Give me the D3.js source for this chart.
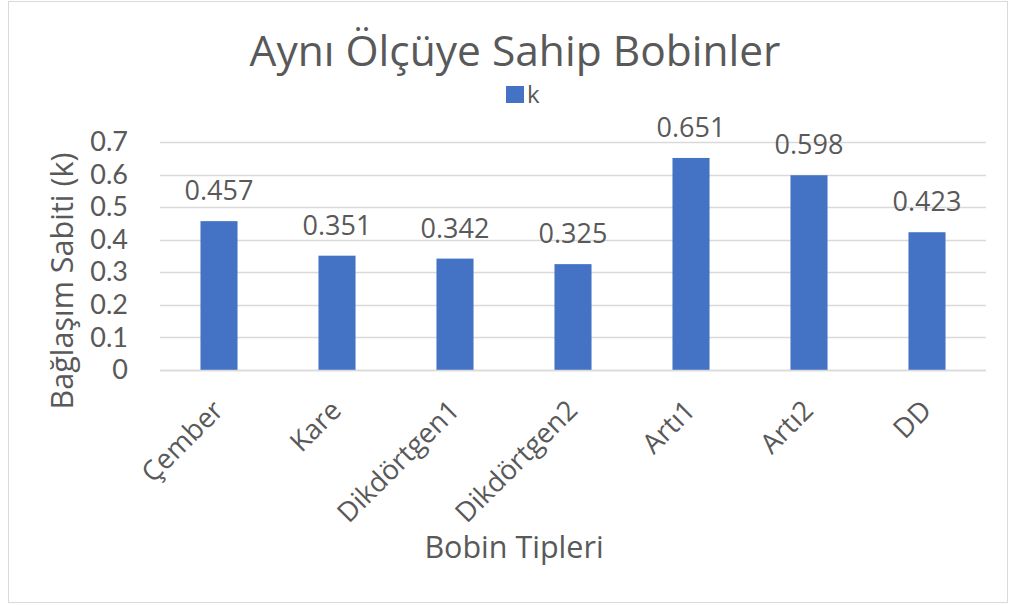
<!DOCTYPE html>
<html>
<head>
<meta charset="utf-8">
<script src="https://cdn.jsdelivr.net/npm/d3@7"></script>
<style>
  html, body { margin: 0; padding: 0; background: #fff; }
  svg text { fill: #595959; }
</style>
</head>
<body>
<svg id="chart" width="1011" height="605"></svg>
<script>
const categories = ["Çember", "Kare", "Dikdörtgen1", "Dikdörtgen2", "Artı1", "Artı2", "DD"];
const kValues = [0.457, 0.351, 0.342, 0.325, 0.651, 0.598, 0.423];
const yTicks = [0, 0.1, 0.2, 0.3, 0.4, 0.5, 0.6, 0.7];
const seriesName = "k";
const chartTitle = "Aynı Ölçüye Sahip Bobinler";
const xTitle = "Bobin Tipleri";
const yTitle = "Bağlaşım Sabiti (k)";

const plot = { left: 160, right: 986, top: 142, bottom: 370 };
const barColor = "#4472C4";
const gridColor = "#d9d9d9";
const font = "'Open Sans', Lato, sans-serif";
const tickFont = "Lato, 'Open Sans', sans-serif";

const svg = d3.select("#chart").style("font-family", font);

// chart frame
svg.append("rect")
  .attr("x", 8.5).attr("y", 1.5)
  .attr("width", 999).attr("height", 601)
  .attr("fill", "#fff").attr("stroke", gridColor).attr("stroke-width", 1);

const x = d3.scaleBand()
  .domain(categories)
  .range([plot.left, plot.right])
  .paddingInner(0.686)
  .paddingOuter(0.343);

const y = d3.scaleLinear()
  .domain([0, 0.7])
  .range([plot.bottom, plot.top]);

// horizontal gridlines
svg.append("g")
  .selectAll("line")
  .data(yTicks)
  .join("line")
  .attr("x1", plot.left).attr("x2", plot.right)
  .attr("y1", d => Math.round(y(d)) + 0.5).attr("y2", d => Math.round(y(d)) + 0.5)
  .attr("stroke", gridColor).attr("stroke-width", 1.5);

// y axis labels
const yAxis = d3.axisLeft(y).tickValues(yTicks)
  .tickFormat(d => d === 0 ? "0" : d3.format(".1f")(d))
  .tickSize(0).tickPadding(0);
const gy = svg.append("g").attr("transform", `translate(${plot.left - 32},0)`).call(yAxis);
gy.select(".domain").remove();
gy.selectAll("text")
  .style("font-family", tickFont)
  .style("font-size", "27px")
  .style("fill", "#595959");

// bars
svg.append("g")
  .selectAll("rect")
  .data(kValues)
  .join("rect")
  .attr("x", (d, i) => x(categories[i]))
  .attr("width", x.bandwidth())
  .attr("y", d => y(d))
  .attr("height", d => y(0) - y(d))
  .attr("fill", barColor);

// value labels
svg.append("g")
  .selectAll("text")
  .data(kValues)
  .join("text")
  .attr("x", (d, i) => x(categories[i]) + x.bandwidth() / 2)
  .attr("y", d => y(d) - 21)
  .attr("text-anchor", "middle")
  .style("font-size", "27px")
  .text(d => d3.format(".3f")(d));

// x axis baseline
svg.append("line")
  .attr("x1", plot.left).attr("x2", plot.right)
  .attr("y1", plot.bottom + 0.5).attr("y2", plot.bottom + 0.5)
  .attr("stroke", gridColor).attr("stroke-width", 1.5);

// rotated category labels
const xAxis = d3.axisBottom(x).tickSize(0).tickPadding(0);
const gx = svg.append("g").attr("transform", `translate(0,${plot.bottom})`).call(xAxis);
gx.select(".domain").remove();
gx.selectAll("text")
  .style("font-family", font)
  .style("font-size", "27.5px")
  .style("fill", "#595959")
  .attr("text-anchor", "end")
  .attr("dy", null).attr("y", 0)
  .attr("transform", "translate(6,42) rotate(-45)");

// title
svg.append("text")
  .attr("x", 515).attr("y", 66)
  .attr("text-anchor", "middle")
  .style("font-size", "42.5px")
  .text(chartTitle);

// legend
const lg = svg.append("g").attr("transform", "translate(506,86)");
lg.append("rect").attr("width", 18).attr("height", 17).attr("fill", barColor);
lg.append("text").attr("x", 21).attr("y", 17).style("font-size", "24px").text(seriesName);

// axis titles
svg.append("text")
  .attr("x", 514).attr("y", 558)
  .attr("text-anchor", "middle")
  .style("font-size", "30.5px")
  .text(xTitle);

svg.append("text")
  .attr("transform", "translate(73,281) rotate(-90)")
  .attr("text-anchor", "middle")
  .style("font-size", "30.5px")
  .text(yTitle);
</script>
</body>
</html>
